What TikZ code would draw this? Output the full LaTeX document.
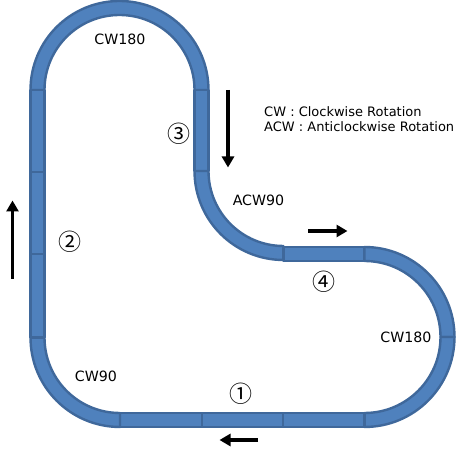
\documentclass[tikz,border=0pt]{standalone}
\usepackage{fontspec}
\setmainfont{DejaVu Sans}
\newfontfamily\circfont{Noto Sans CJK JP}
\usetikzlibrary{arrows.meta,calc}
\definecolor{trackfill}{HTML}{4F81BD}
\definecolor{trackline}{HTML}{3F689B}
\tikzset{
  x=1pt,y=1pt,
  seg/.style={fill=trackfill,draw=trackline,line width=2.4pt,line join=round},
  lab/.style={inner sep=0pt,font=\fontsize{14.2}{16}\selectfont},
  num/.style={inner sep=0pt,font=\circfont\fontsize{23}{24}\selectfont},
  legend/.style={inner sep=0pt,anchor=west,font=\fontsize{13}{15}\selectfont},
  dir/.style={line width=3.8pt,-{Triangle[width=12pt,length=11pt]},shorten >=-0.5pt}
}
\newcommand{\arcseg}[5]{% cx cy start end R
  \draw[seg] ($(#1,#2)+(#3:#5+7)$) arc[start angle=#3,end angle=#4,radius=#5+7]
   -- ($(#1,#2)+(#4:#5-7)$) arc[start angle=#4,end angle=#3,radius=#5-7] -- cycle;}
\newcommand{\vseg}[3]{\draw[seg] (#1-7,#2) rectangle (#1+7,#3);}
\newcommand{\hseg}[3]{\draw[seg] (#1,#3-7) rectangle (#2,#3+7);}
\begin{document}
\begin{tikzpicture}
\useasboundingbox (0,0) rectangle (474,454);
% top CW180
\arcseg{119.5}{364}{180}{0}{82}
% right side down
\vseg{201.5}{364}{283}
\arcseg{283.5}{283}{180}{270}{82}
\hseg{283.5}{364.5}{200}
\arcseg{364.5}{117}{90}{0}{83}
\arcseg{364.5}{117}{0}{-90}{83}
\hseg{120}{202}{34}
\hseg{202}{283}{34}
\hseg{283}{364.5}{34}
\arcseg{120}{116.5}{270}{180}{82.5}
\vseg{37.5}{116.5}{200}
\vseg{37.5}{200}{282}
\vseg{37.5}{282}{364}
% direction arrows
\coordinate (a1s) at (12.5,175); \coordinate (a1e) at (12.5,253);
\coordinate (a2s) at (228,364); \coordinate (a2e) at (228,287);
\coordinate (a3s) at (308,223); \coordinate (a3e) at (347,223);
\coordinate (a4s) at (258,14); \coordinate (a4e) at (220,14);
\draw[dir] (a1s) -- (a1e);
\draw[dir] (a2s) -- (a2e);
\draw[dir] (a3s) -- (a3e);
\draw[dir] (a4s) -- (a4e);
% labels
\node[lab] (top) at (120,415) {CW180};
\node[lab] (right) at (406,117) {CW180};
\node[lab] (acw) at (258.5,254) {ACW90};
\node[lab] (cw) at (96,78) {CW90};
\node[num] (n1) at (241,60) {①};
\node[num] (n2) at (70,212) {②};
\node[num] (n3) at (179,320) {③};
\node[num] (n4) at (324,172) {④};
\node[legend] (l1) at (264,342.5) {CW : Clockwise Rotation};
\node[legend] (l2) at (264,327.5) {ACW : Anticlockwise Rotation};
\end{tikzpicture}
\end{document}
